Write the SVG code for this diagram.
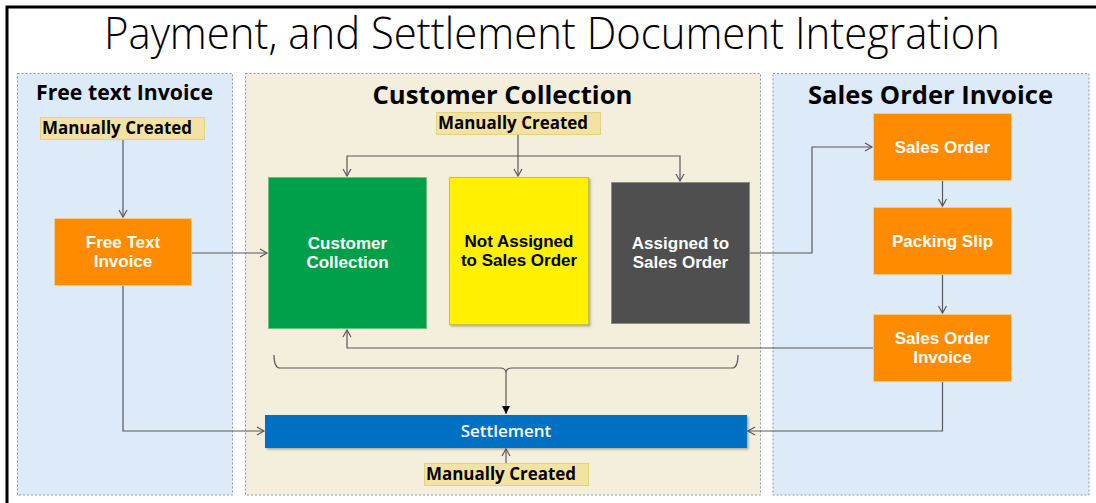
<svg xmlns="http://www.w3.org/2000/svg" width="1096" height="503" viewBox="0 0 1096 503">
<style>
.panel-blue{fill:#DDEBF8;stroke:#8497B0;stroke-width:1;stroke-dasharray:2,2}
.panel-beige{fill:#F4EFDC;stroke:#8497B0;stroke-width:1;stroke-dasharray:2,2}
.ptitle{font-family:"Open Sans","Noto Sans","Liberation Sans",sans-serif;font-weight:700;fill:#000}
.mc{fill:#F3E3A2;stroke:#E6D27A;stroke-width:1}
.mctext{font-family:"Open Sans","Noto Sans","Liberation Sans",sans-serif;font-weight:700;font-size:17px;fill:#000}
.orange{fill:#FF8B00;stroke:#F6C88A;stroke-width:1}
.wt{font-family:"Liberation Sans",Arial,sans-serif;font-weight:700;font-size:17px;fill:#fff;text-anchor:middle}
.bt{font-family:"Liberation Sans",Arial,sans-serif;font-weight:700;font-size:17px;fill:#000;text-anchor:middle}
.conn{fill:none;stroke:#595959;stroke-width:1.2}
</style>
<defs>
<marker id="open" markerUnits="userSpaceOnUse" markerWidth="12" markerHeight="12" refX="8" refY="5" orient="auto">
<path d="M1,1 L8,5 L1,9" fill="none" stroke="#595959" stroke-width="1.2"/>
</marker>
<marker id="solid" markerUnits="userSpaceOnUse" markerWidth="12" markerHeight="12" refX="8" refY="4.5" orient="auto">
<path d="M0,0.5 L8,4.5 L0,8.5 Z" fill="#000"/>
</marker>
<filter id="sh" x="-5%" y="-5%" width="115%" height="125%">
<feDropShadow dx="1.5" dy="1.5" stdDeviation="1.2" flood-color="#000" flood-opacity="0.3"/>
</filter>
</defs>

<rect width="1096" height="503" fill="#fff"/>
<path d="M7,503 L7,7 L1096,7" fill="none" stroke="#000" stroke-width="3"/>

<text x="552" y="49" text-anchor="middle" font-family="'Open Sans','Noto Sans','Liberation Sans',sans-serif" font-weight="300" font-size="44" textLength="896" lengthAdjust="spacingAndGlyphs" fill="#000">Payment, and Settlement Document Integration</text>

<g id="panel-free-text-invoice">
<rect class="panel-blue" x="17.5" y="73.5" width="215" height="421.5"/>
<text class="ptitle" x="124.5" y="100" font-size="21" text-anchor="middle" textLength="177" lengthAdjust="spacingAndGlyphs">Free text Invoice</text>
</g>
<g id="panel-customer-collection">
<rect class="panel-beige" x="245.5" y="73.5" width="515" height="421.5"/>
<text class="ptitle" x="502.5" y="104" font-size="25" text-anchor="middle" textLength="260" lengthAdjust="spacingAndGlyphs">Customer Collection</text>
</g>
<g id="panel-sales-order-invoice">
<rect class="panel-blue" x="773" y="73.5" width="316" height="421.5"/>
<text class="ptitle" x="930.5" y="104" font-size="25" text-anchor="middle" textLength="245" lengthAdjust="spacingAndGlyphs">Sales Order Invoice</text>
</g>

<g id="connectors">
<path class="conn" d="M123,140 L123,217" marker-end="url(#open)"/>
<path class="conn" d="M192,253 L267,253" marker-end="url(#open)"/>
<path class="conn" d="M518,134 L518,176" marker-end="url(#open)"/>
<path class="conn" d="M518,156 L347,156 L347,176" marker-end="url(#open)"/>
<path class="conn" d="M518,156 L680,156 L680,181" marker-end="url(#open)"/>
<path class="conn" d="M749,253 L812,253 L812,147 L872,147" marker-end="url(#open)"/>
<path class="conn" d="M942.5,181 L942.5,206" marker-end="url(#open)"/>
<path class="conn" d="M942.5,275 L942.5,313" marker-end="url(#open)"/>
<path class="conn" d="M873,348 L347,348 L347,330" marker-end="url(#open)"/>
<path class="conn" d="M274,355 Q274,368 280,368 L500,368 Q506,368 506,373 Q506,368 512,368 L732,368 Q738,368 738,355"/>
<path class="conn" d="M506,373 L506,414" marker-end="url(#solid)"/>
<path class="conn" d="M506,463 L506,449" marker-end="url(#open)"/>
<path class="conn" d="M123,286 L123,431 L264,431" marker-end="url(#open)"/>
<path class="conn" d="M942.5,381 L942.5,431 L748,431" marker-end="url(#open)"/>
</g>

<g id="mc-free-text">
<rect class="mc" x="40.5" y="117.5" width="164" height="22"/>
<text class="mctext" x="42" y="134" textLength="150" lengthAdjust="spacingAndGlyphs">Manually Created</text>
</g>
<g id="mc-customer-collection">
<rect class="mc" x="436.5" y="112.5" width="164" height="22"/>
<text class="mctext" x="438" y="129" textLength="150" lengthAdjust="spacingAndGlyphs">Manually Created</text>
</g>
<g id="mc-settlement">
<rect class="mc" x="424.5" y="463.5" width="164" height="22"/>
<text class="mctext" x="426" y="480" textLength="150" lengthAdjust="spacingAndGlyphs">Manually Created</text>
</g>

<g id="free-text-invoice">
<rect class="orange" x="54.5" y="218.5" width="137" height="67"/>
<text class="wt" x="123" y="248">Free Text</text>
<text class="wt" x="123" y="267.2">Invoice</text>
</g>
<g id="customer-collection">
<rect x="268.5" y="177.5" width="158" height="151" fill="#00A04A" stroke="#6CC27A" stroke-width="1"/>
<text class="wt" x="347.5" y="249">Customer</text>
<text class="wt" x="347.5" y="268.2">Collection</text>
</g>
<g id="not-assigned">
<rect x="449.5" y="177.5" width="139" height="147" fill="#FFF100" stroke="#CDBE3A" stroke-width="1" filter="url(#sh)"/>
<text class="bt" x="519" y="247">Not Assigned</text>
<text class="bt" x="519" y="266.2">to Sales Order</text>
</g>
<g id="assigned">
<rect x="611.5" y="182.5" width="138" height="141" fill="#4F4F4F" stroke="#8A8A8A" stroke-width="1"/>
<text class="wt" x="680.5" y="249">Assigned to</text>
<text class="wt" x="680.5" y="268.2">Sales Order</text>
</g>
<g id="sales-order">
<rect class="orange" x="873.5" y="113.5" width="138" height="67"/>
<text class="wt" x="942.5" y="153">Sales Order</text>
</g>
<g id="packing-slip">
<rect class="orange" x="873.5" y="207.5" width="138" height="67"/>
<text class="wt" x="942.5" y="247">Packing Slip</text>
</g>
<g id="sales-order-invoice">
<rect class="orange" x="873.5" y="314.5" width="138" height="67"/>
<text class="wt" x="942.5" y="344">Sales Order</text>
<text class="wt" x="942.5" y="363.2">Invoice</text>
</g>
<g id="settlement">
<rect x="265" y="415" width="482" height="33" fill="#0070C3" filter="url(#sh)"/>
<text x="506" y="437" text-anchor="middle" font-family="'Open Sans','Noto Sans','Liberation Sans',sans-serif" font-weight="600" font-size="17" fill="#fff">Settlement</text>
</g>
</svg>
